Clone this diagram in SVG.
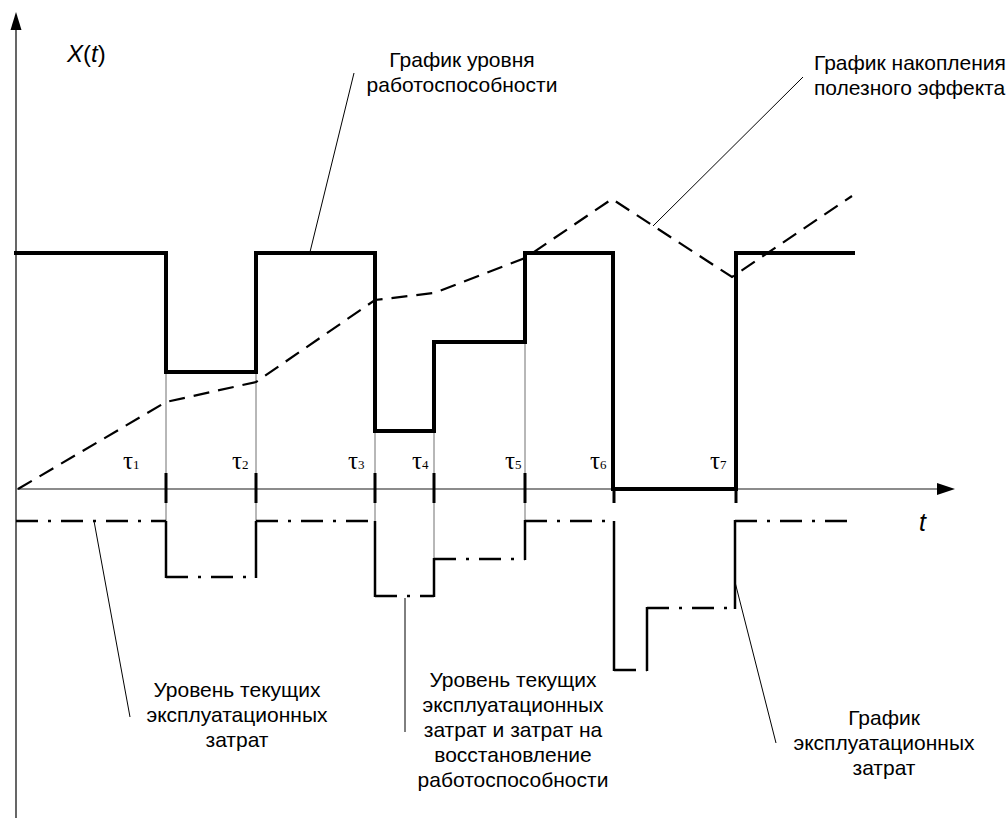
<svg xmlns="http://www.w3.org/2000/svg" width="1008" height="818" viewBox="0 0 1008 818">
<style>
.lbl{font-family:"Liberation Sans",Arial,sans-serif;font-size:21px;fill:#000}
.tau{font-family:"Liberation Serif","Times New Roman",serif;font-size:25px;fill:#000}
.sub{font-size:13px}
.lead{stroke:#000;stroke-width:1;fill:none}
.grid{stroke:#707070;stroke-width:1;fill:none}
.tick{stroke:#000;stroke-width:3;fill:none}
.main{stroke:#000;stroke-width:4;fill:none;stroke-linejoin:miter;stroke-linecap:square}
.acc{stroke:#000;stroke-width:2.2;fill:none;stroke-dasharray:16 9}
.dd{stroke:#000;stroke-width:2.5;fill:none;stroke-dasharray:22 10 3 10}
.cv{stroke:#000;stroke-width:2.5;fill:none}
</style>
<g id="axes">
<line x1="16" y1="26" x2="16" y2="818" stroke="#000" stroke-width="1.2"/>
<polygon points="16,12 10.5,30 21.5,30" fill="#000"/>
<line x1="16" y1="489" x2="940" y2="489" stroke="#666" stroke-width="1.5"/>
<polygon points="955,489 937,483 937,495" fill="#000"/>
<text x="67" y="62" class="lbl" style="font-size:24px"><tspan font-style="italic">X</tspan>(<tspan font-style="italic">t</tspan>)</text>
<text x="919" y="531" class="lbl" style="font-size:25px;font-style:italic">t</text>
</g>
<g id="grid">
<line class="grid" x1="166" y1="372" x2="166" y2="521"/>
<line class="grid" x1="256" y1="372" x2="256" y2="521"/>
<line class="grid" x1="375" y1="431" x2="375" y2="521"/>
<line class="grid" x1="434" y1="431" x2="434" y2="559"/>
<line class="grid" x1="525" y1="342" x2="525" y2="521"/>
</g>
<g id="ticks">
<line class="tick" x1="166" y1="473" x2="166" y2="503"/>
<line class="tick" x1="256" y1="473" x2="256" y2="503"/>
<line class="tick" x1="375" y1="473" x2="375" y2="503"/>
<line class="tick" x1="434" y1="473" x2="434" y2="503"/>
<line class="tick" x1="525" y1="473" x2="525" y2="503"/>
<line class="tick" x1="614" y1="489" x2="614" y2="503" stroke-width="2"/>
<line class="tick" x1="736" y1="489" x2="736" y2="503" stroke-width="2"/>
</g>
<g id="tau-labels">
<text class="tau" x="123" y="469">τ<tspan class="sub">1</tspan></text>
<text class="tau" x="232" y="469">τ<tspan class="sub">2</tspan></text>
<text class="tau" x="348" y="469">τ<tspan class="sub">3</tspan></text>
<text class="tau" x="412" y="469">τ<tspan class="sub">4</tspan></text>
<text class="tau" x="505" y="469">τ<tspan class="sub">5</tspan></text>
<text class="tau" x="590" y="469">τ<tspan class="sub">6</tspan></text>
<text class="tau" x="710" y="469">τ<tspan class="sub">7</tspan></text>
</g>
<g id="accumulation">
<polyline class="acc" points="18,489 166,402 256,382 375,300 434,293 525,258 612,199 732,277 852,196"/>
</g>
<g id="workability">
<path class="main" d="M16,253 H166 V372 H256 V253 H375 V431 H434 V342 H525 V253 H613 V489 H736 V253 H853"/>
</g>
<g id="costs">
<line class="dd" x1="16" y1="521" x2="166" y2="521"/>
<line class="dd" x1="166" y1="577" x2="256" y2="577"/>
<line class="dd" x1="256" y1="521" x2="375" y2="521"/>
<line class="dd" x1="375" y1="596" x2="434" y2="596"/>
<line class="dd" x1="434" y1="559" x2="525" y2="559"/>
<line class="dd" x1="525" y1="521" x2="614" y2="521"/>
<line class="dd" x1="614" y1="670" x2="647" y2="670"/>
<line class="dd" x1="647" y1="608" x2="735" y2="608"/>
<line class="dd" x1="735" y1="521" x2="852" y2="521"/>
<line class="cv" x1="166" y1="521" x2="166" y2="578"/>
<line class="cv" x1="256" y1="521" x2="256" y2="578"/>
<line class="cv" x1="375" y1="521" x2="375" y2="597"/>
<line class="cv" x1="434" y1="558" x2="434" y2="597"/>
<line class="cv" x1="525" y1="520" x2="525" y2="560"/>
<line class="cv" x1="614" y1="521" x2="614" y2="671"/>
<line class="cv" x1="647" y1="607" x2="647" y2="671"/>
<line class="cv" x1="735" y1="520" x2="735" y2="609"/>
</g>
<g id="connectors">
<line class="lead" x1="310" y1="252" x2="354" y2="73"/>
<line class="lead" x1="653" y1="226" x2="803" y2="77"/>
<line class="lead" x1="94" y1="521" x2="130" y2="717"/>
<line class="lead" x1="405" y1="598" x2="405" y2="732"/>
<line class="lead" x1="735" y1="582" x2="776" y2="743"/>
</g>
<g id="label-workability">
<text class="lbl" text-anchor="middle" x="462" y="67">График уровня</text>
<text class="lbl" text-anchor="middle" x="462" y="92">работоспособности</text>
</g>
<g id="label-accumulation">
<text class="lbl" x="814" y="70">График накопления</text>
<text class="lbl" x="814" y="95">полезного эффекта</text>
</g>
<g id="label-current">
<text class="lbl" text-anchor="middle" x="237" y="697">Уровень текущих</text>
<text class="lbl" text-anchor="middle" x="237" y="722">эксплуатационных</text>
<text class="lbl" text-anchor="middle" x="237" y="747">затрат</text>
</g>
<g id="label-restore">
<text class="lbl" text-anchor="middle" x="513" y="687">Уровень текущих</text>
<text class="lbl" text-anchor="middle" x="513" y="712">эксплуатационных</text>
<text class="lbl" text-anchor="middle" x="513" y="737">затрат и затрат на</text>
<text class="lbl" text-anchor="middle" x="513" y="762">восстановление</text>
<text class="lbl" text-anchor="middle" x="513" y="787">работоспособности</text>
</g>
<g id="label-costs">
<text class="lbl" text-anchor="middle" x="884" y="725">График</text>
<text class="lbl" text-anchor="middle" x="884" y="750">эксплуатационных</text>
<text class="lbl" text-anchor="middle" x="884" y="775">затрат</text>
</g>
</svg>
